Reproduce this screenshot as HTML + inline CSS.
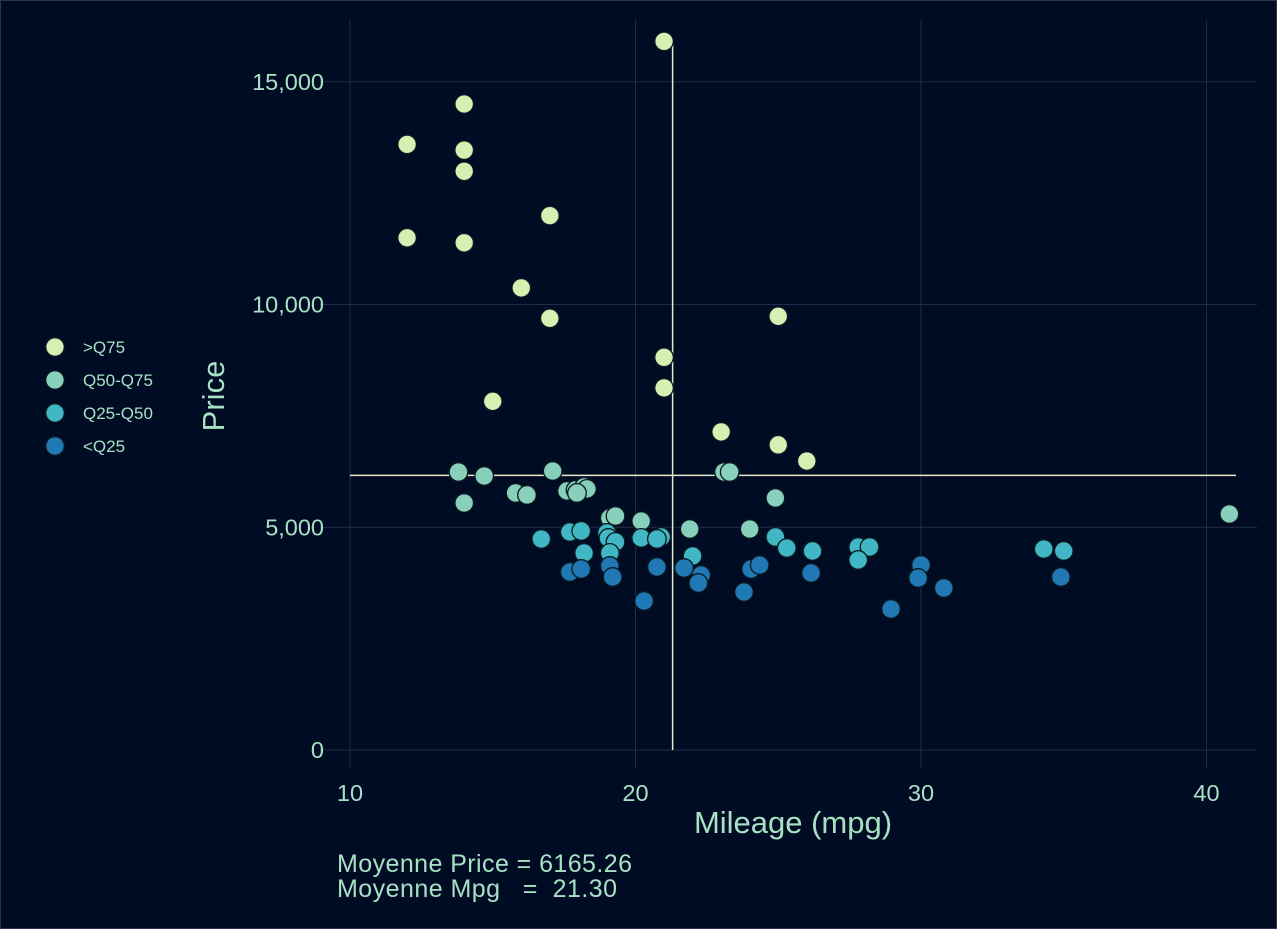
<!DOCTYPE html>
<html><head><meta charset="utf-8"><style>
body{margin:0;background:#000c24;}
svg{display:block;font-family:"Liberation Sans",sans-serif;}
</style></head><body>
<svg id="chart" width="1277" height="929" xmlns="http://www.w3.org/2000/svg">
<rect x="0.5" y="0.5" width="1276" height="928" fill="#000c24" stroke="#2a3550"/>
<g id="grid"></g>
<g id="lines"></g>
<g id="points"></g>
<g id="axes"></g>
<text transform="translate(224,396) rotate(-90)" text-anchor="middle" fill="#a8e0c4" font-size="31">Price</text>
<text x="793" y="833" text-anchor="middle" fill="#a8e0c4" font-size="31">Mileage (mpg)</text>
<text x="337" y="872" fill="#a8e0c4" font-size="25" textLength="295">Moyenne Price = 6165.26</text>
<text x="337" y="897" fill="#a8e0c4" font-size="25" xml:space="preserve" textLength="280">Moyenne Mpg   =  21.30</text>
<g id="legend"></g>
</svg>
<script>
const groups=['>Q75','Q50-Q75','Q25-Q50','<Q25'];
const colors=['#d6f0b3','#88d0bb','#41b6c4','#2079b4'];
const xTicks=[10,20,30,40];
const yTicks=[0,5000,10000,15000];
const yTickLabels=['0','5,000','10,000','15,000'];
const meanPrice=6165.26;
const meanMpg=21.30;
const mpgQ75=[21,14,12,14,14,17,12,14,16,17,25,21,21,15,23,25,26];
const priceQ75=[15906,14500,13594,13466,12990,11995,11497,11385,10372,9690,9735,8814,8129,7827,7140,6850,6486];
const mpgQ50=[13.8,14.7,17.1,23.1,23.3,14,15.8,16.2,17.6,17.9,18.2,18.3,17.95,19.1,19.3,20.2,21.9,24,24.9,40.8];
const priceQ50=[6240,6150,6263,6240,6240,5545,5770,5725,5815,5837,5905,5860,5770,5208,5253,5141,4961,4961,5657,5298];
const mpgQ25=[16.7,17.7,18.1,19,19.05,19.3,18.2,19.1,20.2,20.9,20.75,22,24.9,25.3,26.2,27.8,28.2,27.8,34.3,35];
const priceQ25=[4737,4894,4917,4872,4759,4670,4423,4423,4760,4782,4737,4355,4782,4535,4468,4557,4557,4265,4512,4468];
const mpgLow=[17.7,18.1,19.1,19.2,20.3,20.75,21.7,22.3,22.2,23.8,24.05,24.35,26.15,28.95,30,29.9,30.8,34.9];
const priceLow=[3996,4063,4131,3884,3345,4108,4086,3929,3749,3547,4063,4153,3974,3165,4153,3861,3637,3884];

const X=v=>350+(v-10)*28.55;
const Y=v=>750-v*0.04455;
const NS='http://www.w3.org/2000/svg';
function mk(tag,attrs,parent,text){const e=document.createElementNS(NS,tag);for(const k in attrs)e.setAttribute(k,attrs[k]);if(text!==undefined)e.textContent=text;parent.appendChild(e);return e;}
const grid=document.getElementById('grid'),axes=document.getElementById('axes');
xTicks.forEach(t=>{
  const l=mk('line',{x1:X(t),x2:X(t),y1:20,y2:768,stroke:'#222c48','stroke-width':1},grid);
  
  
  const tx=mk('text',{x:X(t),y:801,'text-anchor':'middle',fill:'#a8e0c4','font-size':23.5},axes,String(t));
  
  
});
yTicks.forEach((t,i)=>{
  const l=mk('line',{x1:320,x2:1257,y1:Y(t),y2:Y(t),stroke:'#222c48','stroke-width':1},grid);
  
  
  const tx=mk('text',{x:324,y:Y(t)+8,'text-anchor':'end',fill:'#a8e0c4','font-size':23.5},axes,yTickLabels[i]);
  
  
});
const lines=document.getElementById('lines');
const hl=mk('line',{x1:350,x2:1236,y1:Y(meanPrice),y2:Y(meanPrice),stroke:'#e6e8cc','stroke-width':1.5},lines);


const vl=mk('line',{x1:X(meanMpg),x2:X(meanMpg),y1:41,y2:750,stroke:'#e6e8cc','stroke-width':1.5},lines);


const pts=document.getElementById('points');
const series=[[mpgQ75,priceQ75],[mpgQ50,priceQ50],[mpgQ25,priceQ25],[mpgLow,priceLow]];
series.forEach((s,g)=>{
  s[0].forEach((m,i)=>{
    const c=mk('circle',{cx:X(m),cy:Y(s[1][i]),r:9.3,fill:colors[g],stroke:'#0a1a20','stroke-width':1.3},pts);
    
    
  });
});
const lg=document.getElementById('legend');
groups.forEach((g,i)=>{
  const y=347+i*33;
  const c=mk('circle',{cx:55,cy:y,r:9.3,fill:colors[i],stroke:'#0a1a20','stroke-width':1.3},lg);
  
  
  const t=mk('text',{x:83,y:y+6,fill:'#a8e0c4','font-size':17},lg,g);
  
  
});
</script>
</body></html>
